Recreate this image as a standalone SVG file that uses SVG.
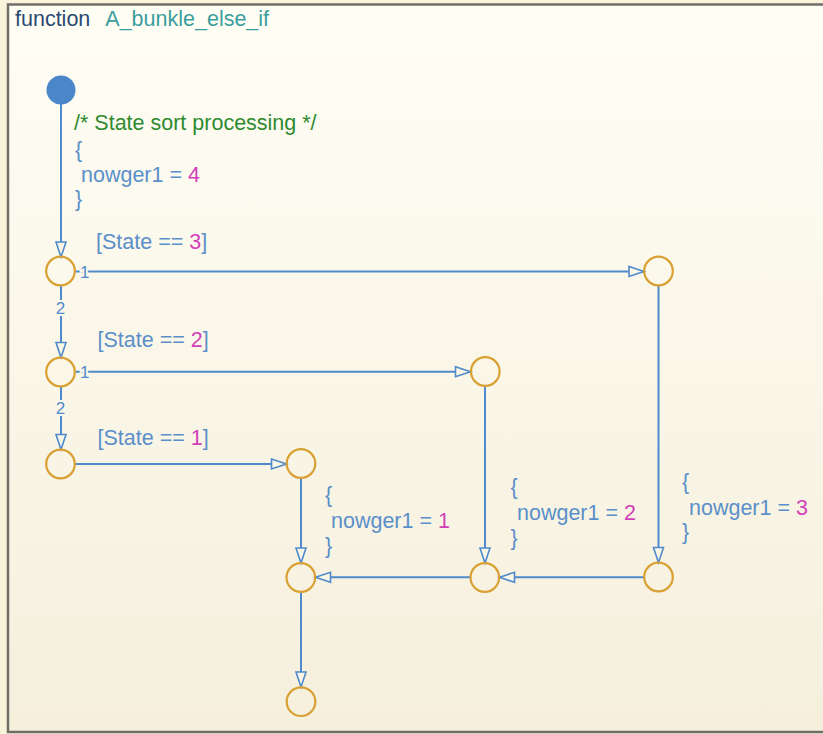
<svg xmlns="http://www.w3.org/2000/svg" width="823" height="734" viewBox="0 0 823 734">
  <defs>
    <linearGradient id="bg" x1="0" y1="0" x2="0" y2="1">
      <stop offset="0" stop-color="#fffef5"/>
      <stop offset="1" stop-color="#f5efdc"/>
    </linearGradient>
    <marker id="arr" markerWidth="18" markerHeight="12" refX="16" refY="6" orient="auto" markerUnits="userSpaceOnUse" overflow="visible">
      <path d="M1,1 L16,6 L1,11 Z" fill="#faf6e6" stroke="#4f8acb" stroke-width="1.6" stroke-linejoin="miter"/>
    </marker>
  </defs>
  <style>
    text { font-family: "Liberation Sans", Arial, sans-serif; font-size: 21.5px; }
    .c { fill: #5b8fc9; }
    .m { fill: #d23fb8; }
    .g { fill: #2f8a2f; }
    .fn { fill: #2b4a72; }
    .nm { fill: #3b9e9e; }
    .p { font-size: 17px; fill: #4f8acb; paint-order: stroke; stroke: #fbf8ea; stroke-width: 4px; }
    .j { fill: none; stroke: #d9a033; stroke-width: 2.2; }
    .t { fill: none; stroke: #4f8acb; stroke-width: 2; }
  </style>

  <rect x="0" y="0" width="823" height="734" fill="#f8f3da"/>
  <rect x="8" y="4.5" width="830" height="727.5" fill="url(#bg)" stroke="#6f6f68" stroke-width="2.5"/>

  <g id="title">
    <text x="15" y="26"><tspan class="fn">function</tspan><tspan class="nm" dx="15">A_bunkle_else_if</tspan></text>
  </g>

  <g id="connectors">
    <line class="t" x1="61" y1="104" x2="61" y2="257" marker-end="url(#arr)"/>
    <line class="t" x1="75.5" y1="271.5" x2="644" y2="271.5" marker-end="url(#arr)"/>
    <line class="t" x1="61" y1="285.5" x2="61" y2="357.5" marker-end="url(#arr)"/>
    <line class="t" x1="75.5" y1="371.7" x2="470.5" y2="371.7" marker-end="url(#arr)"/>
    <line class="t" x1="61" y1="386.5" x2="61" y2="449.5" marker-end="url(#arr)"/>
    <line class="t" x1="75.5" y1="464" x2="286.5" y2="464" marker-end="url(#arr)"/>
    <line class="t" x1="301" y1="478.5" x2="301" y2="563" marker-end="url(#arr)"/>
    <line class="t" x1="485" y1="386" x2="485" y2="563" marker-end="url(#arr)"/>
    <line class="t" x1="658.5" y1="285.5" x2="658.5" y2="562.5" marker-end="url(#arr)"/>
    <line class="t" x1="644" y1="577.3" x2="499.5" y2="577.3" marker-end="url(#arr)"/>
    <line class="t" x1="470.5" y1="577.3" x2="315.5" y2="577.3" marker-end="url(#arr)"/>
    <line class="t" x1="301" y1="592" x2="301" y2="687" marker-end="url(#arr)"/>

    <text class="p" x="80" y="278">1</text>
    <text class="p" x="80" y="378">1</text>
    <text class="p" x="60.5" y="313.5" text-anchor="middle">2</text>
    <text class="p" x="60.5" y="413.5" text-anchor="middle">2</text>
  </g>

  <g id="init">
    <circle cx="61" cy="90" r="14.5" fill="#4a86c8"/>
  </g>
  <g id="init-label">
    <text class="g" x="74" y="130">/* State sort processing */</text>
    <text class="c" x="75" y="157">{</text>
    <text x="81" y="182"><tspan class="c">nowger1 = </tspan><tspan class="m">4</tspan></text>
    <text class="c" x="75" y="206">}</text>
  </g>

  <g id="j1"><circle class="j" cx="60.5" cy="271" r="14.3"/></g>
  <g id="j2"><circle class="j" cx="60.5" cy="372" r="14.3"/></g>
  <g id="j3"><circle class="j" cx="60.5" cy="464" r="14.3"/></g>
  <g id="j4"><circle class="j" cx="658.5" cy="271" r="14.3"/></g>
  <g id="j5"><circle class="j" cx="485.3" cy="371.5" r="14.3"/></g>
  <g id="j6"><circle class="j" cx="301" cy="463.5" r="14.3"/></g>
  <g id="j7"><circle class="j" cx="300.8" cy="577.5" r="14.3"/></g>
  <g id="j8"><circle class="j" cx="484.8" cy="577.5" r="14.3"/></g>
  <g id="j9"><circle class="j" cx="658.5" cy="577" r="14.3"/></g>
  <g id="j10"><circle class="j" cx="301" cy="701.7" r="14.3"/></g>

  <g id="labels">
    <text x="96" y="249"><tspan class="c">[State == </tspan><tspan class="m">3</tspan><tspan class="c">]</tspan></text>
    <text x="97.5" y="347"><tspan class="c">[State == </tspan><tspan class="m">2</tspan><tspan class="c">]</tspan></text>
    <text x="97.5" y="445"><tspan class="c">[State == </tspan><tspan class="m">1</tspan><tspan class="c">]</tspan></text>

    <text class="c" x="325" y="502">{</text>
    <text x="331" y="528"><tspan class="c">nowger1 = </tspan><tspan class="m">1</tspan></text>
    <text class="c" x="325" y="553">}</text>

    <text class="c" x="510.5" y="494">{</text>
    <text x="517" y="520"><tspan class="c">nowger1 = </tspan><tspan class="m">2</tspan></text>
    <text class="c" x="510.5" y="545">}</text>

    <text class="c" x="682" y="489">{</text>
    <text x="689" y="515"><tspan class="c">nowger1 = </tspan><tspan class="m">3</tspan></text>
    <text class="c" x="682" y="539">}</text>
  </g>
</svg>
